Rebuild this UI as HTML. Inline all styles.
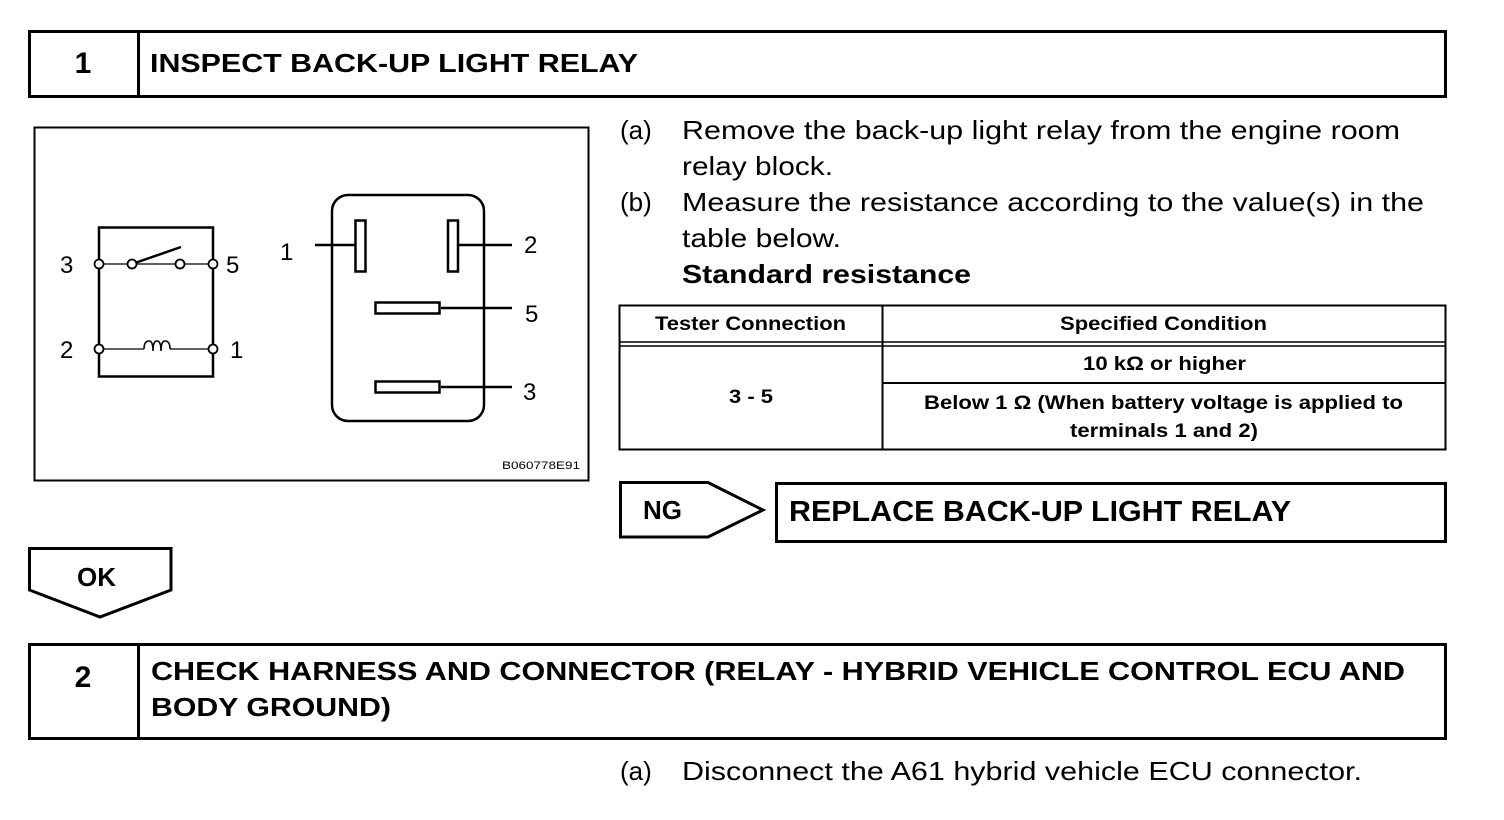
<!DOCTYPE html>
<html><head><meta charset="utf-8"><style>
html,body{margin:0;padding:0;background:#fff;}
svg{display:block;}
text{font-family:"Liberation Sans",Arial,sans-serif;fill:#000;}
.b{font-weight:bold;}
</style></head><body>
<svg width="1504" height="820" viewBox="0 0 1504 820" xmlns="http://www.w3.org/2000/svg">
<g fill="none" stroke="#000">
<rect x="29.5" y="31.5" width="1416" height="65" stroke-width="3"/>
<line x1="138.5" y1="31" x2="138.5" y2="97" stroke-width="3"/>
<rect x="34.5" y="127.5" width="554" height="353" stroke-width="2"/>
<rect x="99" y="227.5" width="114" height="149" stroke-width="2.5"/>
<line x1="99" y1="264" x2="213" y2="264" stroke-width="1.2"/>
<line x1="99" y1="349" x2="144" y2="349" stroke-width="1.2"/>
<line x1="170" y1="349" x2="213" y2="349" stroke-width="1.2"/>
<line x1="132" y1="264" x2="181" y2="247" stroke-width="2.5"/>
<path d="M144 349 q0 -8 5 -8 q4 0 4 10 q0 -10 4 -10 q4 0 4 10 q0 -10 4 -10 q5 0 5 8" stroke-width="1.6"/>
<rect x="332" y="195" width="152" height="226" rx="16" stroke-width="2.5"/>
<rect x="355.5" y="220.5" width="10" height="51" stroke-width="2.5"/>
<rect x="448" y="220.5" width="10" height="51" stroke-width="2.5"/>
<rect x="375.5" y="302.5" width="64" height="11" stroke-width="2.5"/>
<rect x="375.5" y="381.5" width="64" height="11" stroke-width="2.5"/>
<line x1="315" y1="245" x2="355" y2="245" stroke-width="2.5"/>
<line x1="459" y1="245" x2="512" y2="245" stroke-width="2.5"/>
<line x1="441" y1="308" x2="512" y2="308" stroke-width="2.5"/>
<line x1="441" y1="387" x2="512" y2="387" stroke-width="2.5"/>
<rect x="619.5" y="305.5" width="826" height="144" stroke-width="2"/>
<line x1="882.5" y1="305" x2="882.5" y2="450" stroke-width="2"/>
<line x1="619" y1="342" x2="1446" y2="342" stroke-width="1.5"/>
<line x1="619" y1="346" x2="1446" y2="346" stroke-width="1.5"/>
<line x1="882" y1="383" x2="1446" y2="383" stroke-width="2"/>
<path d="M620.5 482.5 H708 L763 510 L708 537 H620.5 Z" stroke-width="3"/>
<rect x="776.5" y="483.5" width="669" height="58" stroke-width="3"/>
<path d="M29.5 548.5 H171 V590 L100 617 L29.5 590 Z" stroke-width="3"/>
<rect x="29.5" y="644.5" width="1416" height="94" stroke-width="3"/>
<line x1="138.5" y1="644" x2="138.5" y2="739" stroke-width="3"/>
</g>
<g fill="#fff" stroke="#000" stroke-width="1.8">
<circle cx="99" cy="264" r="4.5"/><circle cx="132" cy="264" r="4.5"/><circle cx="180" cy="264" r="4.5"/><circle cx="213" cy="264" r="4.5"/>
<circle cx="99" cy="349" r="4.5"/><circle cx="213" cy="349" r="4.5"/>
</g>
<text x="83" y="73" class="b" font-size="30" text-anchor="middle">1</text>
<text x="150" y="72" class="b" font-size="26" textLength="488" lengthAdjust="spacingAndGlyphs">INSPECT BACK-UP LIGHT RELAY</text>
<g font-size="24">
<text x="60" y="273">3</text><text x="226" y="273">5</text>
<text x="60" y="358">2</text><text x="230" y="358">1</text>
<text x="280" y="260">1</text><text x="524" y="253">2</text>
<text x="525" y="322">5</text><text x="523" y="400">3</text>
</g>
<text x="580" y="469" font-size="11" text-anchor="end" textLength="78" lengthAdjust="spacingAndGlyphs">B060778E91</text>
<g font-size="26">
<text x="620" y="139">(a)</text>
<text x="682" y="139" textLength="718" lengthAdjust="spacingAndGlyphs">Remove the back-up light relay from the engine room</text>
<text x="682" y="175" textLength="151" lengthAdjust="spacingAndGlyphs">relay block.</text>
<text x="620" y="211">(b)</text>
<text x="682" y="211" textLength="742" lengthAdjust="spacingAndGlyphs">Measure the resistance according to the value(s) in the</text>
<text x="682" y="247" textLength="159" lengthAdjust="spacingAndGlyphs">table below.</text>
<text x="682" y="283" class="b" textLength="289" lengthAdjust="spacingAndGlyphs">Standard resistance</text>
<text x="620" y="780">(a)</text>
<text x="682" y="780" textLength="680" lengthAdjust="spacingAndGlyphs">Disconnect the A61 hybrid vehicle ECU connector.</text>
</g>
<g font-size="19" class="b">
<text x="655" y="330" textLength="191" lengthAdjust="spacingAndGlyphs">Tester Connection</text>
<text x="1060" y="330" textLength="207" lengthAdjust="spacingAndGlyphs">Specified Condition</text>
<text x="1083" y="370" textLength="163" lengthAdjust="spacingAndGlyphs">10 kΩ or higher</text>
<text x="924" y="409" textLength="479" lengthAdjust="spacingAndGlyphs">Below 1 Ω (When battery voltage is applied to</text>
<text x="1070" y="437" textLength="188" lengthAdjust="spacingAndGlyphs">terminals 1 and 2)</text>
<text x="729" y="403" textLength="44" lengthAdjust="spacingAndGlyphs">3 - 5</text>
</g>
<text x="643" y="519" class="b" font-size="26">NG</text>
<text x="789" y="521" class="b" font-size="29" textLength="502" lengthAdjust="spacingAndGlyphs">REPLACE BACK-UP LIGHT RELAY</text>
<text x="77" y="586" class="b" font-size="26">OK</text>
<text x="83" y="687" class="b" font-size="30" text-anchor="middle">2</text>
<text x="151" y="680" class="b" font-size="26" textLength="1254" lengthAdjust="spacingAndGlyphs">CHECK HARNESS AND CONNECTOR (RELAY - HYBRID VEHICLE CONTROL ECU AND</text>
<text x="151" y="716" class="b" font-size="26" textLength="240" lengthAdjust="spacingAndGlyphs">BODY GROUND)</text>
</svg>
</body></html>
